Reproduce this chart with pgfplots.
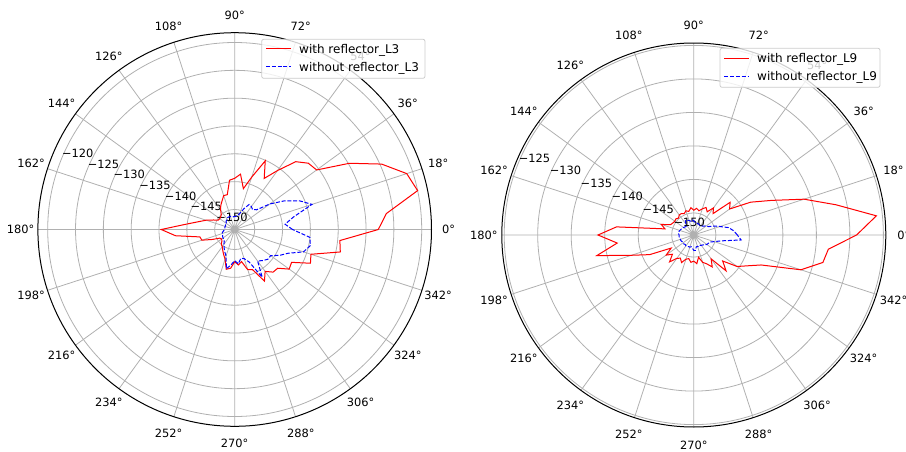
\documentclass[border=0pt]{standalone}
\usepackage{fontspec}
\setmainfont{DejaVu Sans}
\usepackage{pgfplots}
\usepackage{pgfplotstable}
\pgfplotsset{compat=1.18}
\usepgfplotslibrary{polar}

\pgfplotstableread{
ang with without
0 -127.8 -143.2
6 -126.2 -144.5
12 -120.0 -142.8
18 -121.1 -139.0
24 -124.7 -140.9
30 -129.8 -143.3
36 -135.4 -145.8
42 -135.8 -148.3
48 -137.2 -148.8
54 -140.5 -148.5
60 -143.0 -148.4
66 -140.1 -149.5
72 -143.7 -150.5
78 -146.1 -151.0
84 -143.6 -151.2
90 -144.4 -151.3
96 -144.7 -151.3
102 -147.2 -151.2
108 -147.2 -151.1
114 -148.0 -151.1
120 -148.6 -151.1
126 -149.3 -151.3
132 -150.0 -151.4
138 -150.2 -151.5
144 -150.3 -151.8
150 -150.2 -151.7
156 -149.4 -151.8
162 -148.2 -151.8
168 -146.9 -151.8
174 -144.7 -151.8
180 -140.4 -151.8
186 -142.9 -151.6
192 -147.2 -151.4
198 -147.4 -151.2
204 -149.2 -151.2
210 -150.5 -151.1
216 -150.7 -151.0
222 -150.5 -151.0
228 -150.0 -150.8
234 -149.8 -150.3
240 -149.3 -149.8
246 -148.7 -149.2
252 -148.0 -148.6
258 -146.3 -146.4
264 -146.6 -147.2
270 -147.8 -148.0
276 -147.2 -147.4
282 -147.7 -148.3
288 -146.0 -148.1
294 -145.7 -147.2
300 -142.9 -143.7
306 -144.3 -146.6
312 -143.3 -146.1
318 -143.2 -145.6
324 -141.5 -145.6
330 -141.8 -144.3
336 -138.7 -143.1
342 -139.2 -140.6
348 -134.2 -139.7
354 -134.6 -140.0
360 -127.8 -143.2
}\leftdata

\pgfplotstableread{
ang with without
0 -129.0 -146.8
6 -125.9 -147.3
12 -131.6 -148.0
18 -136.0 -149.2
24 -140.6 -150.0
30 -143.5 -150.8
36 -146.7 -151.0
42 -146.0 -151.3
48 -149.0 -151.5
54 -148.3 -151.6
60 -149.3 -151.6
66 -148.8 -151.5
72 -149.2 -151.5
78 -149.6 -151.4
84 -149.3 -151.4
90 -149.6 -151.2
96 -149.2 -151.0
102 -149.7 -151.2
108 -149.5 -151.0
114 -149.8 -150.9
120 -149.6 -150.8
126 -149.6 -151.3
132 -149.9 -151.6
138 -149.7 -151.5
144 -149.8 -151.4
150 -149.7 -151.3
156 -149.5 -151.2
162 -148.2 -151.1
168 -148.9 -151.0
174 -141.7 -151.0
180 -139.0 -151.1
186 -141.8 -151.1
192 -138.5 -151.1
198 -143.5 -151.2
204 -146.1 -151.2
210 -149.4 -151.3
216 -148.2 -151.3
222 -149.0 -151.3
228 -147.9 -151.4
234 -149.0 -151.3
240 -149.3 -151.3
246 -148.8 -151.4
252 -149.5 -151.4
258 -149.7 -151.5
264 -149.2 -151.3
270 -149.4 -151.0
276 -149.0 -151.0
282 -149.9 -151.5
288 -149.0 -151.5
294 -148.6 -151.4
300 -147.8 -151.5
306 -148.9 -151.4
312 -146.1 -151.3
318 -147.5 -151.1
324 -145.3 -150.9
330 -144.1 -150.8
336 -142.3 -150.7
342 -136.5 -150.1
348 -133.6 -149.1
354 -133.1 -146.2
360 -129.0 -146.8
}\rightdata

\definecolor{mplred}{RGB}{255,0,0}
\definecolor{mplblue}{RGB}{0,0,255}
\definecolor{legedge}{RGB}{204,204,204}

\pgfplotsset{
  mypolar/.style={
    scale only axis,
    xmin=0, xmax=360, ymin=0,
    xtick={0,18,...,342}, xticklabels={},
    yticklabels={},
    grid=major,
    major grid style={draw=gray!62, line width=0.8pt},
    tick style={draw=none},
    separate axis lines,
    x axis line style={black, line width=1pt},
    y axis line style={draw=none},
    clip=false,
  }
}

\begin{document}
\fontsize{11.4}{13.7}\selectfont
\begin{tikzpicture}
\useasboundingbox (0pt,0pt) rectangle (906pt,-452pt);
% left
\begin{polaraxis}[mypolar,
  at={(234.7pt,-229.5pt)}, anchor=center,
  width=393.6pt, height=393.6pt,
  ymax=35.36,
  ytick={3.6,8.6,13.6,18.6,23.6,28.6,33.6},
]
\pgfplotsinvokeforeach{0,18,...,342}{\node at (axis cs:#1,38.45) {#1°};}
\node[anchor=south west, inner sep=0pt] at (axis cs:157.5,3.6) {−150};
\node[anchor=south west, inner sep=0pt] at (axis cs:157.5,8.6) {−145};
\node[anchor=south west, inner sep=0pt] at (axis cs:157.5,13.6) {−140};
\node[anchor=south west, inner sep=0pt] at (axis cs:157.5,18.6) {−135};
\node[anchor=south west, inner sep=0pt] at (axis cs:157.5,23.6) {−130};
\node[anchor=south west, inner sep=0pt] at (axis cs:157.5,28.6) {−125};
\node[anchor=south west, inner sep=0pt] at (axis cs:157.5,33.6) {−120};
\addplot[draw=mplred, line width=1pt] table[x=ang, y expr=\thisrow{with}+153.6] {\leftdata};
\addplot[draw=mplblue, line width=1pt, dash pattern=on 4pt off 1.8pt] table[x=ang, y expr=\thisrow{without}+153.6] {\leftdata};
\end{polaraxis}
% right
\begin{polaraxis}[mypolar,
  at={(693.8pt,-235pt)}, anchor=center,
  width=384pt, height=384pt,
  ymax=28.66,
  ytick={3.3,8.3,13.3,18.3,23.3,28.3},
]
\pgfplotsinvokeforeach{0,18,...,342}{\node at (axis cs:#1,31.34) {#1°};}
\node[anchor=south west, inner sep=0pt] at (axis cs:157.5,3.3) {−150};
\node[anchor=south west, inner sep=0pt] at (axis cs:157.5,8.3) {−145};
\node[anchor=south west, inner sep=0pt] at (axis cs:157.5,13.3) {−140};
\node[anchor=south west, inner sep=0pt] at (axis cs:157.5,18.3) {−135};
\node[anchor=south west, inner sep=0pt] at (axis cs:157.5,23.3) {−130};
\node[anchor=south west, inner sep=0pt] at (axis cs:157.5,28.3) {−125};
\addplot[draw=mplred, line width=1pt] table[x=ang, y expr=\thisrow{with}+153.3] {\rightdata};
\addplot[draw=mplblue, line width=1pt, dash pattern=on 4pt off 1.8pt] table[x=ang, y expr=\thisrow{without}+153.3] {\rightdata};
\end{polaraxis}
% legends (drawn on top, translucent box as in the reference)
\path[fill=white, fill opacity=0.8, rounded corners=2pt] (261.7pt,-39.3pt) rectangle (425pt,-78.3pt);
\path[fill=white, fill opacity=0.8, rounded corners=2pt] (720pt,-48.3pt) rectangle (880pt,-87.3pt);
\draw[legedge, line width=0.8pt, rounded corners=2pt] (261.7pt,-39.3pt) rectangle (425pt,-78.3pt);
\draw[legedge, line width=0.8pt, rounded corners=2pt] (720pt,-48.3pt) rectangle (880pt,-87.3pt);
\begin{scope}[font=\fontsize{12}{14.4}\selectfont]
\node[anchor=base west, inner sep=0pt] at (299pt,-53.4pt) {with reflector\_L3};
\node[anchor=base west, inner sep=0pt] at (299pt,-71.4pt) {without reflector\_L3};
\node[anchor=base west, inner sep=0pt] at (757pt,-62.8pt) {with reflector\_L9};
\node[anchor=base west, inner sep=0pt] at (757pt,-80.8pt) {without reflector\_L9};
\end{scope}
\draw[mplred, line width=1pt] (266pt,-49pt) -- (291pt,-49pt);
\draw[mplblue, line width=1pt, dash pattern=on 4pt off 1.8pt] (266pt,-67pt) -- (291pt,-67pt);
\draw[mplred, line width=1pt] (724.3pt,-58.5pt) -- (749.3pt,-58.5pt);
\draw[mplblue, line width=1pt, dash pattern=on 4pt off 1.8pt] (724.3pt,-76.5pt) -- (749.3pt,-76.5pt);
\end{tikzpicture}
\end{document}
